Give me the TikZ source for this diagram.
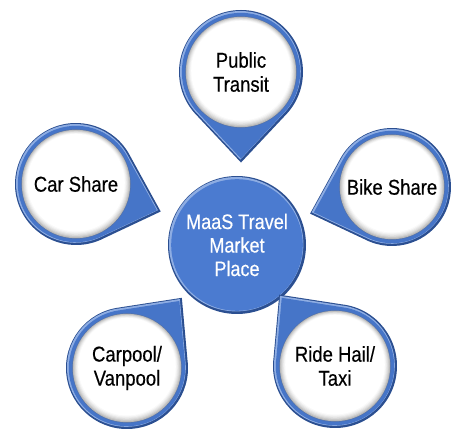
\documentclass[tikz,border=0pt]{standalone}
\usepackage{fontspec}
\setmainfont{Liberation Sans}[FakeStretch=0.86,FakeBold=0.4]
\definecolor{rimblue}{HTML}{4675C8}
\definecolor{darkblue}{HTML}{2B4F91}
\definecolor{lightblue}{HTML}{8EADE3}
\definecolor{ctrblue}{HTML}{4B7BD0}
\tikzset{
  pintext/.style={align=center,text=black,font=\fontsize{21.5}{24}\selectfont,inner sep=0pt},
  ctrtext/.style={align=center,text=white,font=\fontsize{21}{23.5}\selectfont,inner sep=0pt}
}
\newcommand{\mypin}[6]{%
  \begin{scope}[shift={(#2,#3)}]
    \fill[darkblue] (#5+45:#4) arc[start angle=#5+45, end angle=#5+315, radius=#4] -- (#5:#4*1.46) -- cycle;
    \fill[lightblue] ($(#5+45:#4-1.6)+(-0.6,0.6)$) arc[start angle=#5+45, end angle=#5+315, radius=#4-1.6] -- ($(#5:#4*1.46-2.3)+(-0.6,0.6)$) -- cycle;
    \fill[rimblue] (#5+45:#4-2.8) arc[start angle=#5+45, end angle=#5+315, radius=#4-2.8] -- (#5:#4*1.46-4) -- cycle;
    \fill[darkblue!80] (0,0) circle (#4-6.2);
    \foreach \i/\c in {0/55,1/42,2/30,3/20,4/12,5/5,6/0}
      \fill[gray!\c] (0,\i*0.22) circle (#4-6.8-\i*0.9);
    \node[pintext] (#1) at (0,0) {#6};
  \end{scope}
}
\usetikzlibrary{calc}
\begin{document}
\begin{tikzpicture}[x=1pt,y=1pt]
\useasboundingbox (0,0) rectangle (451,432);
% centre
\fill[darkblue] (237,187) circle (69);
\fill[lightblue] (236.2,187.8) circle (67.2);
\fill[ctrblue] (237,187) circle (65.8);
\node[ctrtext] (ctr) at (237,187) {MaaS Travel\\Market\\Place};
% pins
\mypin{pt}{241}{360}{62}{270}{Public\\Transit}
\mypin{cs}{76}{248}{61}{-18}{Car Share}
\mypin{bs}{392}{245}{59}{198}{Bike Share}
\mypin{cp}{127}{64}{61}{52}{Carpool/\\Vanpool}
\mypin{rh}{335}{66}{62}{128}{Ride Hail/\\Taxi}
\end{tikzpicture}
\end{document}
